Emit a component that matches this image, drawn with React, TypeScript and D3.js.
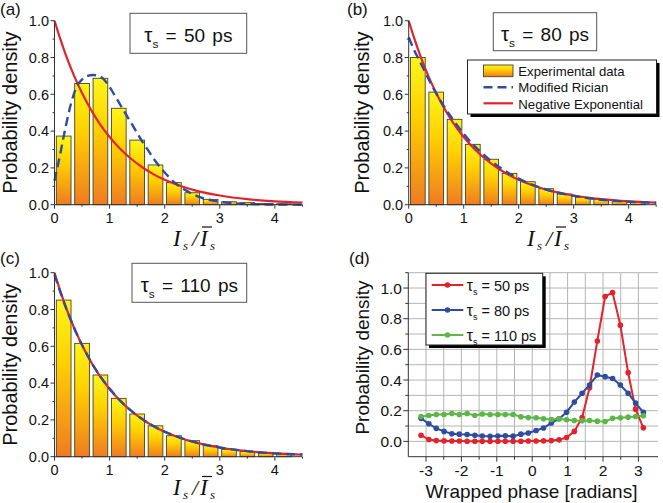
import React from 'react';
import * as d3 from 'd3';

// ---------- data ----------
const BIN_WIDTH = 1 / 3;
const barsA = [0.373, 0.659, 0.687, 0.524, 0.351, 0.216, 0.12, 0.065, 0.029, 0.016, 0.011, 0.007, 0.005];
const barsB = [0.8, 0.612, 0.464, 0.328, 0.247, 0.17, 0.125, 0.087, 0.058, 0.04, 0.029, 0.022, 0.015];
const barsC = [0.851, 0.616, 0.444, 0.317, 0.232, 0.168, 0.114, 0.087, 0.06, 0.04, 0.029, 0.02, 0.014];

const curveX = [0, 0.1, 0.2, 0.3, 0.4, 0.5, 0.6, 0.8, 1.0, 1.2, 1.4, 1.6, 1.8, 2.0, 2.3, 2.6, 3.0, 3.5, 4.0, 4.5];
const negExp = [1, 0.905, 0.819, 0.741, 0.67, 0.607, 0.549, 0.449, 0.368, 0.301, 0.247, 0.202, 0.165, 0.135, 0.1, 0.074, 0.05, 0.03, 0.018, 0.011];
const ricianB = [0.91, 0.84, 0.78, 0.72, 0.66, 0.605, 0.555, 0.465, 0.385, 0.318, 0.262, 0.215, 0.175, 0.142, 0.103, 0.074, 0.048, 0.027, 0.016, 0.01];
const ricianC = [0.99, 0.9, 0.815, 0.74, 0.67, 0.607, 0.55, 0.45, 0.37, 0.302, 0.248, 0.203, 0.166, 0.136, 0.101, 0.075, 0.05, 0.03, 0.018, 0.012];

const ricianAX = [0, 0.1, 0.2, 0.3, 0.4, 0.5, 0.6, 0.7, 0.8, 0.9, 1.0, 1.1, 1.2, 1.3, 1.4, 1.5, 1.6, 1.7, 1.8, 1.9, 2.0, 2.2, 2.4, 2.6, 2.8, 3.0, 3.3, 3.6, 4.0, 4.5];
const ricianA = [0.13, 0.27, 0.42, 0.55, 0.64, 0.68, 0.7, 0.705, 0.7, 0.68, 0.64, 0.59, 0.54, 0.49, 0.44, 0.39, 0.34, 0.295, 0.25, 0.21, 0.175, 0.115, 0.075, 0.045, 0.027, 0.016, 0.007, 0.003, 0.001, 0.0];

const phase = [-3.14, -2.92, -2.71, -2.49, -2.27, -2.06, -1.84, -1.62, -1.41, -1.19, -0.97, -0.76, -0.54, -0.32, -0.11,
  0.11, 0.32, 0.54, 0.76, 0.97, 1.19, 1.41, 1.62, 1.84, 2.06, 2.27, 2.49, 2.71, 2.92, 3.14];
const pdf50 = [0.04, 0.012, 0.005, 0.003, 0.002, 0.002, 0.001, 0.001, 0.001, 0.001, 0.001, 0.001, 0.001, 0.001, 0.002,
  0.002, 0.003, 0.005, 0.01, 0.025, 0.065, 0.155, 0.35, 0.655, 0.945, 0.97, 0.758, 0.448, 0.21, 0.088];
const pdf80 = [0.15, 0.115, 0.085, 0.065, 0.05, 0.047, 0.045, 0.04, 0.035, 0.033, 0.035, 0.036, 0.034, 0.047, 0.055,
  0.071, 0.087, 0.12, 0.147, 0.19, 0.256, 0.314, 0.368, 0.433, 0.422, 0.41, 0.368, 0.314, 0.25, 0.19];
const pdf110 = [0.162, 0.169, 0.175, 0.175, 0.182, 0.175, 0.182, 0.169, 0.178, 0.175, 0.175, 0.175, 0.175, 0.16, 0.155,
  0.154, 0.147, 0.143, 0.147, 0.141, 0.136, 0.134, 0.136, 0.132, 0.13, 0.15, 0.154, 0.158, 0.162, 0.167];

const histTicksY = [0, 0.2, 0.4, 0.6, 0.8, 1.0];
const histTicksX = [0, 1, 2, 3, 4];
const phaseTicksX = [-3, -2, -1, 0, 1, 2, 3];
const phaseTicksY = [0, 0.2, 0.4, 0.6, 0.8, 1.0];
const legendHist = ['Experimental data', 'Modified Rician', 'Negative Exponential'];
const legendPhase = ['50 ps', '80 ps', '110 ps'];

// ---------- styles ----------
const SANS = 'Liberation Sans, Arial, Helvetica, sans-serif';
const SERIF = 'Liberation Serif, Times New Roman, serif';
const RED = '#e3232a';
const BLUE = '#2f4d9e';
const GREEN = '#5db746';
const AXIS = '#333';

const fmt1 = d3.format('.1f');

function Tau({ x, y, size, value, anchor = 'middle', ws = 0 }: any) {
  return (
    <text x={x} y={y} fontSize={size} fontFamily={SANS} textAnchor={anchor} fill="#111" style={{ wordSpacing: ws }}>
      <tspan fontSize={size * 1.08}>τ</tspan>
      <tspan fontSize={size * 0.62} dy={size * 0.3}>s</tspan>
      <tspan dy={-size * 0.3}>{` = ${value}`}</tspan>
    </text>
  );
}

function XLabel({ x0, y }: any) {
  const f = { fontFamily: SERIF, fontStyle: 'italic', fill: '#111' } as any;
  return (
    <g>
      <text x={x0} y={y} fontSize={23} {...f}>I</text>
      <text x={x0 + 10} y={y + 4} fontSize={13} {...f}>s</text>
      <text x={x0 + 19} y={y} fontSize={22} {...f}>/</text>
      <text x={x0 + 27} y={y} fontSize={23} {...f}>I</text>
      <text x={x0 + 37} y={y + 4} fontSize={13} {...f}>s</text>
      <line x1={x0 + 29} x2={x0 + 39} y1={y - 18.5} y2={y - 18.5} stroke="#111" strokeWidth={1.2} />
    </g>
  );
}

function HistPanel({ ox, oy, unit, bars, rician, ricianX, tau, box, tag, tagX, tagY, ylabX, xlabX, xlabY }: any) {
  const x = d3.scaleLinear().domain([0, 4.5]).range([ox, ox + 4.5 * unit]);
  const y = d3.scaleLinear().domain([0, 1]).range([oy + 184, oy]);
  const line = d3.line<[number, number]>().x((d) => x(d[0])).y((d) => y(d[1])).curve(d3.curveMonotoneX);
  const redPath = line(curveX.map((v, i) => [v, negExp[i]]));
  const bluePath = line(ricianX.map((v: number, i: number) => [v, rician[i]]));
  const minorY = d3.range(0, 1.0001, 0.1);
  const minorX = d3.range(0, 4.5001, 0.5);
  return (
    <g>
      <text x={tagX} y={tagY} fontSize={17} fontFamily={SANS} fill="#111">{tag}</text>
      {bars.map((v: number, i: number) => {
        const x0 = x(i * BIN_WIDTH);
        const x1 = x((i + 1) * BIN_WIDTH);
        const w = (x1 - x0) * 0.8;
        const cx = (x0 + x1) / 2;
        return (
          <rect key={i} x={cx - w / 2} y={y(v)} width={w} height={y(0) - y(v)} fill="url(#barGrad)" stroke="#4a4424" strokeWidth={0.9} />
        );
      })}
      <path d={redPath || ''} fill="none" stroke={RED} strokeWidth={2.2} />
      <path d={bluePath || ''} fill="none" stroke={BLUE} strokeWidth={2.4} strokeDasharray="9,5" />
      {/* axes */}
      <line x1={ox} x2={ox} y1={y(0)} y2={y(1)} stroke={AXIS} strokeWidth={1} />
      <line x1={ox} x2={x(4.5)} y1={y(0)} y2={y(0)} stroke={AXIS} strokeWidth={1} />
      {minorY.map((t, i) => (
        <line key={'my' + i} x1={ox} x2={ox - (i % 2 === 0 ? 4 : 2)} y1={y(t)} y2={y(t)} stroke={AXIS} />
      ))}
      {minorX.map((t, i) => (
        <line key={'mx' + i} x1={x(t)} x2={x(t)} y1={y(0)} y2={y(0) + (i % 2 === 0 ? 4 : 2)} stroke={AXIS} />
      ))}
      {histTicksY.map((t) => (
        <text key={'ty' + t} x={ox - 5.5} y={y(t)} dy="0.36em" fontSize={14.5} fontFamily={SANS} textAnchor="end" fill="#111">{fmt1(t)}</text>
      ))}
      {histTicksX.map((t) => (
        <text key={'tx' + t} x={x(t)} y={y(0) + 18} fontSize={14.5} fontFamily={SANS} textAnchor="middle" fill="#111">{t}</text>
      ))}
      <text transform={`translate(${ylabX},${(y(0) + y(1)) / 2}) rotate(-90)`} fontSize={20} fontFamily={SANS} textAnchor="middle" fill="#111">Probability density</text>
      <XLabel x0={xlabX} y={xlabY} />
      <rect x={box[0]} y={box[1]} width={box[2]} height={box[3]} fill="#fff" stroke="#555" strokeWidth={1} />
      <Tau x={box[0] + box[2] / 2} y={box[1] + 28.5} size={19} value={tau} ws={2} />
    </g>
  );
}

function PhasePanel() {
  const x = d3.scaleLinear().domain([-3.5, 3.5]).range([408.3, 656.1]);
  const y = d3.scaleLinear().domain([-0.1, 1.1]).range([456.7, 272.7]);
  const line = d3.line<[number, number]>().x((d) => x(d[0])).y((d) => y(d[1]));
  const series = [
    { vals: pdf50, color: RED },
    { vals: pdf80, color: BLUE },
    { vals: pdf110, color: GREEN },
  ];
  const gridX = d3.range(-3, 3.0001, 0.5);
  const gridY = d3.range(0, 1.1001, 0.1);
  const lx = 426;
  const ly = 273.3;
  return (
    <g>
      <text x={349} y={264} fontSize={17} fontFamily={SANS} fill="#111">(d)</text>
      {gridX.map((t, i) => (
        <line key={'gx' + i} x1={x(t)} x2={x(t)} y1={y(-0.1)} y2={y(1.1)} stroke="#b4b4b4" strokeWidth={1} />
      ))}
      {gridY.map((t, i) => (
        <line key={'gy' + i} x1={x(-3.5)} x2={658} y1={y(t)} y2={y(t)} stroke="#b4b4b4" strokeWidth={1} />
      ))}
      <line x1={x(-3.5)} x2={x(-3.5)} y1={y(-0.1)} y2={y(1.1)} stroke={AXIS} />
      <line x1={x(-3.5)} x2={658} y1={y(-0.1)} y2={y(-0.1)} stroke={AXIS} />
      {gridX.map((t, i) => (
        <line key={'tk' + i} x1={x(t)} x2={x(t)} y1={y(-0.1)} y2={y(-0.1) + (i % 2 === 0 ? 5 : 3)} stroke={AXIS} />
      ))}
      {gridY.map((t, i) => (
        <line key={'tky' + i} x1={x(-3.5)} x2={x(-3.5) - (i % 2 === 0 ? 5 : 3)} y1={y(t)} y2={y(t)} stroke={AXIS} />
      ))}
      {phaseTicksY.map((t) => (
        <text key={'py' + t} x={402} y={y(t)} dy="0.36em" fontSize={15.5} fontFamily={SANS} textAnchor="end" fill="#111">{fmt1(t)}</text>
      ))}
      {phaseTicksX.map((t) => (
        <text key={'px' + t} x={x(t)} y={476} fontSize={15.5} fontFamily={SANS} textAnchor="middle" fill="#111">{t}</text>
      ))}
      {series.map((s, k) => (
        <g key={'s' + k}>
          <path d={line(phase.map((p, i) => [p, s.vals[i]])) || ''} fill="none" stroke={s.color} strokeWidth={2} />
          {phase.map((p, i) => (
            <circle key={i} cx={x(p)} cy={y(s.vals[i])} r={2.8} fill={s.color} />
          ))}
        </g>
      ))}
      <text transform={`translate(368.8,357.5) rotate(-90)`} fontSize={19} fontFamily={SANS} textAnchor="middle" fill="#111">Probability density</text>
      <text x={531.5} y={497.5} fontSize={19} fontFamily={SANS} textAnchor="middle" fill="#111">Wrapped phase [radians]</text>
      {/* legend */}
      <rect x={lx + 3} y={ly + 3} width={116.7} height={71.7} fill="#000" />
      <rect x={lx} y={ly} width={116.7} height={71.7} fill="#fff" stroke="#222" strokeWidth={1} />
      {series.map((s, k) => (
        <g key={'l' + k}>
          <line x1={lx + 5.7} x2={lx + 37.3} y1={ly + 11.7 + k * 25} y2={ly + 11.7 + k * 25} stroke={s.color} strokeWidth={2} />
          <circle cx={lx + 21.5} cy={ly + 11.7 + k * 25} r={2.8} fill={s.color} />
          <Tau x={lx + 40.7} y={ly + 17.2 + k * 25} size={14.5} value={legendPhase[k]} anchor="start" />
        </g>
      ))}
    </g>
  );
}

export default function App() {
  const lgx = 467.5;
  const lgy = 60;
  return (
    <svg width={663} height={503} style={{ position: 'absolute', left: 0, top: 0, background: '#fff' }}>
      <defs>
        <linearGradient id="barGrad" x1="0" y1="0" x2="0" y2="1">
          <stop offset="0%" stopColor="#fff51c" />
          <stop offset="40%" stopColor="#ffd000" />
          <stop offset="100%" stopColor="#ef7b22" />
        </linearGradient>
      </defs>
      <rect width={663} height={503} fill="#fff" />
      <HistPanel ox={54.5} oy={20.7} unit={55.1} bars={barsA} rician={ricianA} ricianX={ricianAX} tau="50 ps"
        box={[130, 13.3, 116.7, 40]} tag="(a)" tagX={0} tagY={15} ylabX={17} xlabX={173} xlabY={245.5} />
      <HistPanel ox={408.7} oy={20.7} unit={55} bars={barsB} rician={ricianB} ricianX={curveX} tau="80 ps"
        box={[493.3, 12.7, 103.4, 38]} tag="(b)" tagX={347} tagY={15} ylabX={369.3} xlabX={527} xlabY={245.5} />
      <HistPanel ox={54.5} oy={272.7} unit={55.1} bars={barsC} rician={ricianC} ricianX={curveX} tau="110 ps"
        box={[132, 263.3, 114.7, 39]} tag="(c)" tagX={0} tagY={264} ylabX={17} xlabX={173} xlabY={495} />
      {/* legend for (b) */}
      <g>
        <rect x={lgx + 3} y={lgy + 3} width={189} height={54} fill="#000" />
        <rect x={lgx} y={lgy} width={189} height={54} fill="#fff" stroke="#222" strokeWidth={1} />
        <rect x={lgx + 16} y={lgy + 5} width={29.5} height={11.7} fill="url(#barGrad)" stroke="#4a4424" strokeWidth={0.9} />
        <line x1={lgx + 16} x2={lgx + 45.5} y1={lgy + 27.3} y2={lgy + 27.3} stroke={BLUE} strokeWidth={2.4} strokeDasharray="9,5" />
        <line x1={lgx + 16} x2={lgx + 45.5} y1={lgy + 43.3} y2={lgy + 43.3} stroke={RED} strokeWidth={2.2} />
        {legendHist.map((t, i) => (
          <text key={t} x={lgx + 50.8} y={lgy + 16 + i * 16.3} fontSize={13.2} fontFamily={SANS} fill="#111">{t}</text>
        ))}
      </g>
      <PhasePanel />
    </svg>
  );
}
